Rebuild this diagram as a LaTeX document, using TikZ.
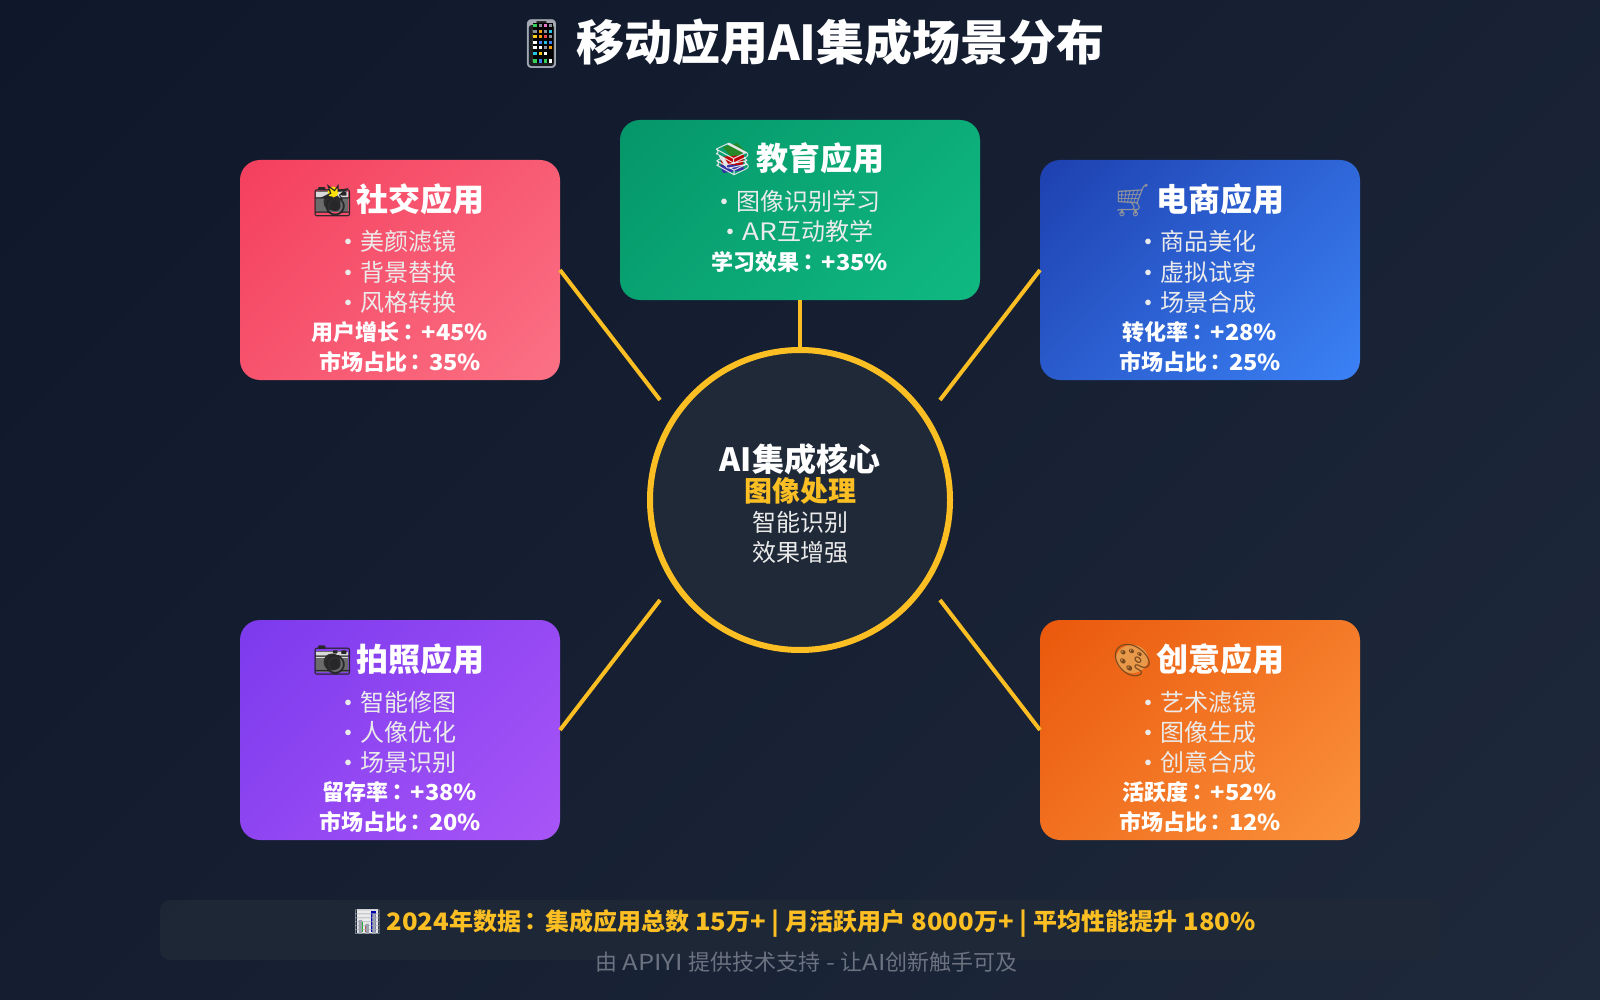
\documentclass[tikz,border=0pt]{standalone}
\usepackage{fontspec}
\setmainfont{Noto Sans CJK SC}
\newfontfamily\emojifont{Noto Emoji}
\newfontfamily\twfont{Noto Sans CJK TC}
\newfontfamily\widea{Noto Sans CJK SC}[FakeStretch=1.07]
\newfontfamily\wideb{Noto Sans CJK SC}[FakeStretch=1.07]
\newfontfamily\widec{Noto Sans CJK SC}[FakeStretch=1.16]
\newcommand{\emo}[2]{{\emojifont\textcolor[HTML]{#1}{#2}}}
\newcommand{\fc}{{\twfont\bfseries\kern-2.4pt：\kern2.4pt}}
\newcommand{\bul}{\makebox[16pt][l]{\hspace{4pt}\makebox[0pt][c]{\raisebox{1pt}{\fontsize{20}{20}\selectfont\bfseries •}}}}
\newcommand{\wa}[1]{{\widea\bfseries #1}}
\newcommand{\wb}[1]{{\wideb\bfseries #1}}
\newcommand{\wc}[1]{{\widec #1}}
\definecolor{bgA}{HTML}{0F172A}\definecolor{bgB}{HTML}{1E293B}
\definecolor{socA}{HTML}{F43F5E}\definecolor{socB}{HTML}{FB7185}
\definecolor{eduA}{HTML}{059669}\definecolor{eduB}{HTML}{10B981}
\definecolor{comA}{HTML}{1E40AF}\definecolor{comB}{HTML}{3B82F6}
\definecolor{phoA}{HTML}{7C3AED}\definecolor{phoB}{HTML}{A855F7}
\definecolor{creA}{HTML}{EA580C}\definecolor{creB}{HTML}{FB923C}
\definecolor{accent}{HTML}{FBBF24}
\definecolor{coreFill}{HTML}{1F2937}
\definecolor{footGrey}{HTML}{6B7280}
\definecolor{appGreen}{HTML}{34D058}\definecolor{appPink}{HTML}{E879C8}
\definecolor{appGrey}{HTML}{8A8F98}\definecolor{appCyan}{HTML}{22C3E6}
\definecolor{appYellow}{HTML}{FACC15}\definecolor{appOrange}{HTML}{F59E0B}
\definecolor{appRed}{HTML}{EF4444}\definecolor{appBlue}{HTML}{3B82F6}
\newcommand{\gradshade}[3]{\pgfdeclarehorizontalshading{#1}{100bp}{color(0bp)=(#2); color(14.6bp)=(#2); color(85.4bp)=(#3); color(100bp)=(#3)}}
\gradshade{bgG}{bgA}{bgB}
\gradshade{socG}{socA}{socB}
\gradshade{eduG}{eduA}{eduB}
\gradshade{comG}{comA}{comB}
\gradshade{phoG}{phoA}{phoB}
\gradshade{creG}{creA}{creB}
\tikzset{
  x=1pt,y=-1pt,
  card/.style={shade,shading=#1,shading angle=-45,rounded corners=20pt,inner sep=0pt,outer sep=0pt,minimum width=320pt,minimum height=220pt},
  wirel/.style={draw=accent,line width=4pt},
  lbl/.style={anchor=base,inner sep=0pt,outer sep=0pt,text=white},
  cardhead/.style={lbl,xshift=-1.5pt,font=\fontsize{32}{32}\selectfont\bfseries},
  carditem/.style={lbl,font=\fontsize{24}{24}\selectfont,text=white!92!black},
  cardstat/.style={lbl,font=\fontsize{22}{22}\selectfont\bfseries},
}
\newcommand{\below}[2]{([yshift=-#2pt]#1.north)}
\newcommand{\emgap}{\hspace{4.2pt}}
% colour underlay of the camera emoji, at the top left corner of its box
\newcommand{\cambody}[2]{%
  \fill[rounded corners=2pt,fill=black!58] (#1,#2+6) rectangle (#1+32,#2+27);
  \fill[fill=black!15] (#1,#2+7) rectangle (#1+32,#2+13);
  \fill[fill=black!82] (#1+16,#2+17) circle (8.5);
}
\begin{document}
\begin{tikzpicture}
\useasboundingbox (0,0) rectangle (1600,1000);
\shade[shading=bgG,shading angle=-45] (0,0) rectangle (1600,1000);

% phone emoji colour
\fill[rounded corners=3pt,fill=black!88] (530,19) rectangle (555,65);
\node[lbl,font=\fontsize{48}{48}\selectfont\bfseries] (title) at (808.25,61) {\emo{A3A9B3}{📱}\hspace{3.2pt}移动应用AI集成场景分布};
\fill[fill=black] (532.5,23) rectangle (553,63);
\foreach \gx/\gy/\gc in {535/25.7/appGreen,540.2/25.7/appGrey,545.5/25.7/appPink,550.6/25.7/appGrey,
  535/31.3/appGrey,540.2/31.3/appOrange,545.5/31.3/appGrey,550.6/31.3/appCyan,
  535/36.7/appYellow,540.2/36.7/appOrange,545.5/36.7/appRed,550.6/36.7/appGrey,
  535/42.3/white,540.2/42.3/appBlue,545.5/42.3/appCyan,550.6/42.3/appBlue,
  535/47.7/white,540.2/47.7/white,545.5/47.7/appGrey,550.6/47.7/appOrange,
  535/53.3/appCyan,540.2/53.3/appYellow,545.5/53.3/white,
  535/61/appGreen,540.2/61/appBlue,545.5/61/appGreen,550.6/61/white}
  {\fill[fill=\gc] (\gx-1.7,\gy-1.7) rectangle (\gx+1.7,\gy+1.7);}

% social
\node[card=socG] (social) at (400,270) {};
\cambody{316}{185}
\fill[fill=yellow!85!orange] (333,192) circle (5.5);
\node[cardhead] (socialh) at \below{social}{51.5} {\emo{27272A}{📸}\emgap 社交应用};
\node[carditem] (sociala) at \below{social}{91} {\bul 美颜滤镜};
\node[carditem] (socialb) at \below{social}{121} {\bul 背景替换};
\node[carditem] (socialc) at \below{social}{151} {\bul 风格转换};
\node[cardstat] (sociald) at \below{social}{180} {用户增长\fc\wa{+45\%}};
\node[cardstat] (sociale) at \below{social}{210} {市场占比\fc\wa{35\%}};

% education
\node[card=eduG,minimum width=360pt,minimum height=180pt] (edu) at (800,210) {};
\fill[fill=green!45!black!85!white] (723,147) -- (737,143) -- (746,152) -- (732,158) -- cycle;
\fill[fill=red!75!black] (720,157) -- (744,155) -- (743,165) -- (722,166) -- cycle;
\fill[fill=blue!55!black!80!white] (720,165) -- (743,165) -- (744,170) -- (723,173) -- cycle;
\node[cardhead] (eduh) at \below{edu}{51} {\emo{E5E7EB}{📚}\emgap 教育应用};
\node[carditem] (edua) at \below{edu}{91} {\bul 图像识别学习};
\node[carditem] (edub) at \below{edu}{121} {\bul \wc{AR}互动教学};
\node[cardstat] (educ) at \below{edu}{150} {学习效果\fc\wa{+35\%}};

% commerce
\node[card=comG] (shop) at (1200,270) {};
\node[cardhead] (shoph) at \below{shop}{51.5} {\emo{8E929C}{🛒}\emgap 电商应用};
\node[carditem] (shopa) at \below{shop}{91} {\bul 商品美化};
\node[carditem] (shopb) at \below{shop}{121} {\bul 虚拟试穿};
\node[carditem] (shopc) at \below{shop}{151} {\bul 场景合成};
\node[cardstat] (shopd) at \below{shop}{180} {转化率\fc\wa{+28\%}};
\node[cardstat] (shope) at \below{shop}{210} {市场占比\fc\wa{25\%}};

% photo
\node[card=phoG] (photo) at (400,730) {};
\cambody{316}{645}
\node[cardhead] (photoh) at \below{photo}{51.5} {\emo{27272A}{📷}\emgap 拍照应用};
\node[carditem] (photoa) at \below{photo}{91} {\bul 智能修图};
\node[carditem] (photob) at \below{photo}{121} {\bul 人像优化};
\node[carditem] (photoc) at \below{photo}{151} {\bul 场景识别};
\node[cardstat] (photod) at \below{photo}{180} {留存率\fc\wa{+38\%}};
\node[cardstat] (photoe) at \below{photo}{210} {市场占比\fc\wa{20\%}};

% creative
\node[card=creG] (art) at (1200,730) {};
\fill[fill=brown!45!orange!80!white] (1132,659) ellipse (16 and 14);
\node[cardhead] (arth) at \below{art}{51.5} {\emo{7A4A1E}{🎨}\emgap 创意应用};
\node[carditem] (arta) at \below{art}{91} {\bul 艺术滤镜};
\node[carditem] (artb) at \below{art}{121} {\bul 图像生成};
\node[carditem] (artc) at \below{art}{151} {\bul 创意合成};
\node[cardstat] (artd) at \below{art}{180} {活跃度\fc\wa{+52\%}};
\node[cardstat] (arte) at \below{art}{210} {市场占比\fc\wa{12\%}};

% core
\node[circle,draw=accent,fill=coreFill,line width=6pt,minimum size=300pt,inner sep=0pt,outer sep=0pt] (core) at (800,500) {};
\node[lbl,font=\fontsize{32}{32}\selectfont\bfseries] (corea) at (800,471) {AI集成核心};
\node[lbl,font=\fontsize{28}{28}\selectfont\bfseries,text=accent] (coreb) at (800,501) {图像处理};
\node[carditem] (corec) at (800,531) {智能识别};
\node[carditem] (cored) at (800,561) {效果增强};

% connectors
\coordinate (endsocial) at (660,400);
\coordinate (endshop) at (940,400);
\coordinate (endphoto) at (660,600);
\coordinate (endart) at (940,600);
\draw[wirel] (social.east) -- (endsocial);
\draw[wirel] (shop.west) -- (endshop);
\draw[wirel] (photo.east) -- (endphoto);
\draw[wirel] (art.west) -- (endart);
\draw[wirel] (edu.south) -- (core.north);

% footer
\node[fill=coreFill,fill opacity=.8,rounded corners=10pt,minimum width=1280pt,minimum height=60pt,inner sep=0pt,outer sep=0pt] (statbar) at (800,930) {};
\fill[fill=white!92!black] (357,909) rectangle (378,933);
\fill[fill=green!70!black] (359,922) rectangle (363,932);
\fill[fill=red!75!black] (365,926) rectangle (369,932);
\fill[fill=blue!70!black] (371,911) rectangle (376,932);
\node[lbl,font=\fontsize{24}{24}\selectfont\bfseries,text=accent] (stats) at (804,930) {\emo{9CA3AF}{📊}\hspace{4pt}\wb{2024}年数据\fc 集成应用总数\wb{ 15}万\wb{+ | }月活跃用户\wb{ 8000}万\wb{+ | }平均性能提升\wb{ 180\%}};
\node[lbl,font=\fontsize{22}{22}\selectfont,text=footGrey] (credit) at (806.5,970) {由\wc{ APIYI }提供技术支持\wc{ - }让\wc{AI}创新触手可及};
\end{tikzpicture}
\end{document}
